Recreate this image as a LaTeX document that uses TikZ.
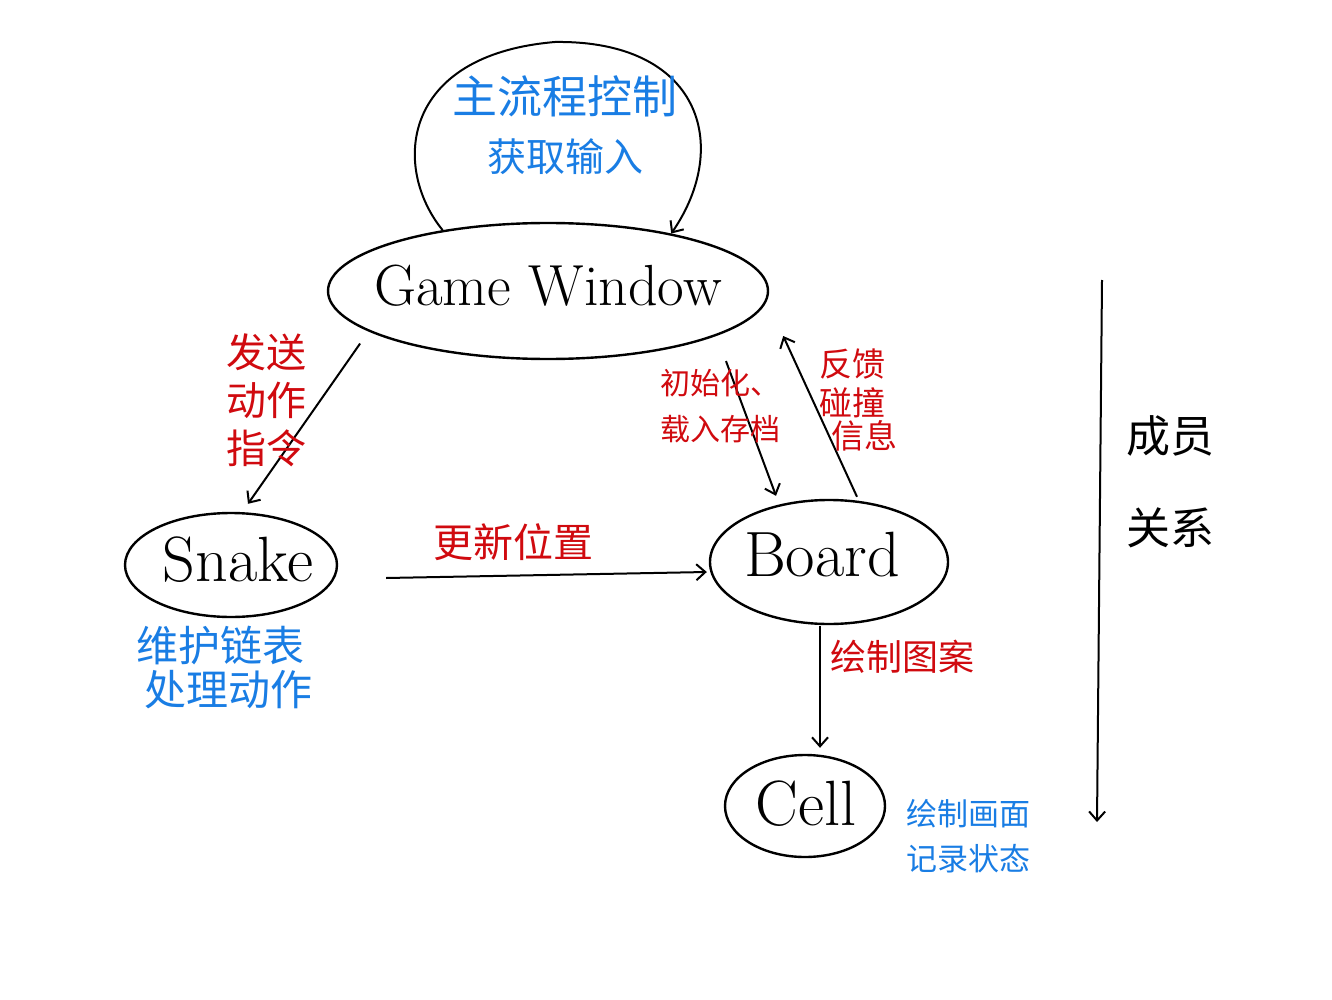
\documentclass[tikz,border=0pt]{standalone}
\usepackage{fontspec}
\newfontfamily\cjk{Noto Sans CJK SC}
\usetikzlibrary{shapes.geometric,arrows.meta}
\definecolor{hblue}{RGB}{25,125,228}
\definecolor{hred}{RGB}{208,10,15}
\tikzset{
  oval/.style={draw, ellipse, line width=2.4pt, inner sep=0pt},
  link/.style={line width=2pt, -{Straight Barb[length=9pt,width=16pt,line width=2pt]}},
  lat/.style={font=\fontsize{#1}{#1}\selectfont},
  bl/.style={text=hblue, align=center, font=\cjk\fontsize{#1}{#1}\selectfont},
  rd/.style={text=hred, align=center, font=\cjk\fontsize{#1}{#1}\selectfont},
  bk/.style={text=black, align=center, font=\cjk\fontsize{#1}{#1}\selectfont},
}
\begin{document}
\begin{tikzpicture}[x=1pt,y=-1pt]
\useasboundingbox[fill=white] (0,0) rectangle (1332,1000);
% ellipses
\node[oval, minimum width=440pt, minimum height=136pt] (gw) at (548,291) {};
\node[oval, minimum width=212pt, minimum height=104pt] (snake) at (231,565) {};
\node[oval, minimum width=238pt, minimum height=124pt] (board) at (829,562) {};
\node[oval, minimum width=160pt, minimum height=102pt] (cell) at (805,806) {};
% names
\node[lat=58] (gwt) at (548,286) {Game Window};
\node[lat=64] (snaket) at (238,560) {Snake};
\node[lat=64] (boardt) at (822,555) {Board};
\node[lat=64] (cellt) at (806,804) {Cell};
% self loop
\draw[link] (gw.150) .. controls (392,168) and (400,55) .. (555,42)
  .. controls (700,40) and (732,145) .. (gw.25);
\node[bl=45] (l1) at (565,96) {主流程控制};
\node[bl=39] (l2) at (565,157) {获取输入};
% GameWindow -> Snake
\draw[link] ([shift={(0,16)}]gw.-169) -- ([shift={(17,-8)}]snake.north);
\node[rd=40, align=left] (t1) at (266,400) {发送\\[8pt]动作\\[8pt]指令};
% GameWindow -> Board
\draw[link] ([shift={(0,29)}]gw.-13) -- ([shift={(-53,-3)}]board.north);
\node[rd=30, align=left] (t2) at (720,406) {初始化、\\[16pt]载入存档};
% Board -> GameWindow
\draw[link] ([shift={(28,-2)}]board.north) -- ([shift={(14,45)}]gw.east);
\node[rd=33, align=left] (t3) at (858,400) {反馈\\[6pt]碰撞\\[0pt]\hspace*{12pt}信息};
% Snake -> Board
\draw[link] ([shift={(48,13)}]snake.east) -- ([shift={(-2,10)}]board.west);
\node[rd=40] (t4) at (513,542) {更新位置};
\node[bl=42, align=left] (s1) at (224,667) {维护链表\\[2pt]\hspace*{8pt}处理动作};
% Board -> Cell
\draw[link] ([shift={(-9,1)}]board.south) -- ([shift={(15,-6)}]cell.north);
\node[rd=36] (t5) at (902,657) {绘制图案};
\node[bl=31, align=left] (c1) at (968,836) {绘制画面\\[14pt]记录状态};
% membership arrow
\coordinate (m1) at (1102,280);
\coordinate (m2) at (1097,822);
\draw[link] (m1) -- (m2);
\node[bk=44, align=left] (mm) at (1170,482) {成员\\[48pt]关系};
\end{tikzpicture}
\end{document}
